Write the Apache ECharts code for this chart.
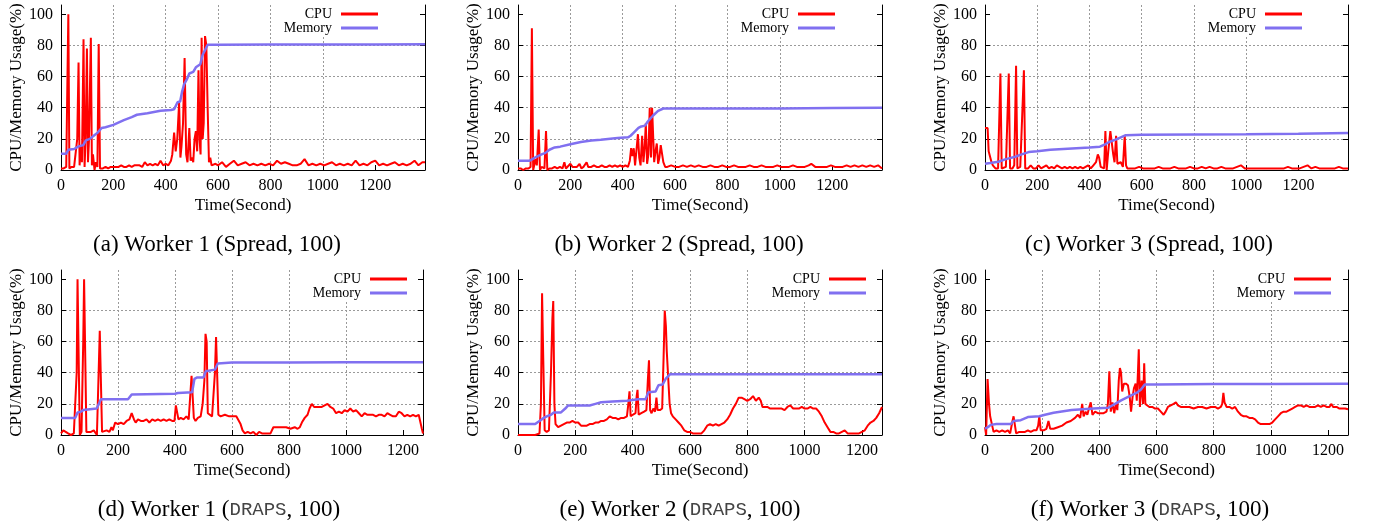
<!DOCTYPE html>
<html><head><meta charset="utf-8">
<script src="https://cdn.jsdelivr.net/npm/echarts@6/dist/echarts.min.js"></script>
<style>html,body{margin:0;padding:0;background:#fff}#c{width:1374px;height:527px}</style>
</head><body><div id="c"></div>
<script>
// ---------- data ----------
const xTickValues = [0, 200, 400, 600, 800, 1000, 1200];
const yTickValues = [0, 20, 40, 60, 80, 100];
const seriesNames = ['CPU', 'Memory'];
const panelLetters = ['a', 'b', 'c', 'd', 'e', 'f'];
const panelWorkers = ['Worker 1', 'Worker 2', 'Worker 3', 'Worker 1', 'Worker 2', 'Worker 3'];
const panelSchemes = ['Spread', 'Spread', 'Spread', 'DRAPS', 'DRAPS', 'DRAPS'];
const panelParam = [100, 100, 100, 100, 100, 100];
const xAxisName = 'Time(Second)';
const yAxisName = 'CPU/Memory Usage(%)';

const cpuA = [[0,1],[10,1],[20,2],[24,2],[28,100],[32,1],[40,2],[50,2],[56,3],[62,20],[67,69],[71,3],[75,15],[80,5],[86,84],[90,2],[94,20],[99,78],[103,5],[107,20],[114,85],[118,3],[122,10],[128,0],[133,5],[139,2],[144,81],[149,1],[155,2],[160,1],
[170,2],[180,1],[190,2],[200,2],[210,2],[220,2],[230,3],[240,2],[250,2],[260,3],[270,2],[280,3],[290,3],[300,3],[310,2],[320,5],[330,3],[340,4],[350,3],[360,4],[370,3],[380,6],[390,3],[400,4],[410,3],[420,6],
[425,10],[432,24],[438,12],[444,20],[451,43],[456,8],[460,15],[466,30],[472,72],[478,10],[483,5],[490,27],[495,6],[500,8],[505,5],[510,20],[515,25],[520,12],[525,64],[529,20],[533,10],[537,85],[541,20],[545,30],[550,86],[555,80],[560,40],[565,5],[570,8],[575,3],
[590,4],[600,3],[615,5],[630,2],[645,4],[660,6],[675,3],[690,4],[705,5],[720,3],[735,4],[750,3],[765,4],[780,3],[795,4],[810,3],[825,6],[840,4],[855,5],[870,4],[885,3],[900,3],[915,4],[930,7],[945,3],[960,4],[975,3],[990,4],[1005,3],[1020,4],[1035,5],[1050,3],[1065,4],[1080,3],[1095,4],[1110,3],[1125,6],[1140,3],[1155,4],[1170,3],[1185,5],[1200,6],[1215,3],[1230,4],[1245,3],[1260,4],[1275,5],[1290,3],[1305,4],[1320,3],[1335,4],[1350,6],[1365,3],[1380,5],[1390,5]];
const memA = [[0,10.5],[20,10.5],[28,13],[50,13.5],[65,15],[85,16],[95,19],[110,20],[125,22],[140,24],[155,27],[170,27.5],[200,29],[240,32],[270,34],[290,35.5],[330,36.5],[380,38],[420,38.5],[432,39],[445,43.5],[455,44],[462,50],[470,55],[480,58],[490,62],[505,63],[515,66],[522,67],[532,68],[541,74],[550,77],[560,80.5],[600,80.5],[800,80.6],[1000,80.6],[1200,80.7],[1390,80.8]];

const cpuB = [[0,1],[10,1],[20,0],[30,1],[40,1],[48,2],[53,91],[58,0],[62,3],[66,7],[72,3],[79,26],[84,0],[90,2],[96,3],[101,1],[107,25],[112,0],[120,1],[130,1],[140,2],[150,1],[160,2],[170,1],[177,5],[183,1],[190,2],[200,4],[208,2],[215,3],[225,2],[235,4],[242,1],[250,2],[262,5],[268,2],[280,2],[290,3],[300,2],[310,2],[320,3],[330,2],[340,2],[350,3],[360,2],[370,3],[380,2],[390,3],[400,2],[410,3],[420,2],
[427,6],[432,14],[437,9],[442,14],[447,3],[452,12],[458,23],[463,8],[468,3],[474,22],[479,5],[484,15],[488,30],[493,4],[498,10],[503,40],[508,8],[512,40],[516,41],[520,5],[525,12],[530,17],[535,4],[540,8],[545,16],[550,16],[555,5],[562,2],[570,2],
[585,3],[600,2],[615,2],[630,3],[645,2],[660,3],[675,2],[690,3],[705,2],[720,2],[735,3],[750,2],[765,2],[780,3],[795,2],[810,2],[825,3],[840,2],[855,2],[870,2],[885,3],[900,2],[915,2],[930,3],[945,2],[960,2],[975,2],[990,3],[1005,2],[1020,2],[1035,2],[1050,3],[1065,2],[1080,2],[1095,2],[1110,3],[1120,4],[1135,2],[1150,2],[1165,2],[1180,2],[1195,3],[1210,2],[1225,2],[1240,2],[1255,3],[1270,2],[1285,3],[1300,2],[1315,3],[1330,2],[1345,3],[1360,2],[1375,3],[1390,1]];
const memB = [[0,6],[45,6],[55,7],[70,8.5],[90,10],[105,11],[120,13],[140,14.5],[161,15],[200,16.5],[240,18],[280,19],[316,19.5],[380,20.5],[420,21],[430,22],[445,24.5],[460,27],[471,28],[485,28.5],[495,31],[505,33],[516,35],[535,38],[555,39.5],[600,39.5],[800,39.5],[1000,39.5],[1200,39.8],[1390,40]];

const cpuC = [[0,27],[5,26],[10,27],[14,12],[20,12],[25,5],[30,3],[40,1],[50,1],[55,2],[59,62],[64,1],[70,1],[80,2],[86,3],[91,62],[96,1],[105,1],[112,3],[119,67],[124,1],[135,2],[140,3],[149,64],[154,1],[165,1],[175,3],[185,1],[195,1],[205,3],[215,1],[225,2],[235,3],[245,1],[255,2],[265,1],[275,3],[285,2],[295,1],[305,2],[315,1],[325,2],[335,1],[345,2],[355,1],[365,2],[375,1],[385,2],[395,3],[405,1],[415,3],[425,5],
[432,10],[437,8],[443,2],[450,3],[456,1],[461,25],[466,0],[472,12],[480,25],[486,26],[491,10],[496,5],[502,22],[507,4],[512,3],[520,5],[528,2],[535,22],[540,3],[545,1],
[560,1],[575,1],[590,2],[605,1],[620,1],[635,1],[650,1],[665,2],[680,1],[695,1],[710,1],[725,2],[740,1],[755,1],[770,1],[785,2],[800,1],[815,1],[830,2],[845,1],[860,2],[875,1],[890,1],[905,2],[920,1],[935,1],[950,1],[965,2],[980,3],[995,1],[1010,1],[1025,1],[1040,1],[1055,1],[1070,1],[1085,1],[1100,1],[1115,1],[1130,1],[1145,1],[1160,2],[1175,1],[1190,1],[1205,1],[1220,2],[1235,3],[1250,1],[1265,2],[1280,1],[1295,1],[1310,1],[1325,1],[1340,1],[1355,2],[1370,1],[1390,1]];
const memC = [[0,4],[20,4.5],[51,5.3],[80,7],[116,8.5],[140,10],[167,11.5],[200,12],[250,13],[300,13.5],[350,14],[400,14.5],[440,15],[460,16.5],[475,18],[500,19.5],[520,21],[539,22.4],[600,22.6],[800,22.8],[1000,23],[1200,23.3],[1390,23.8]];

const cpuD = [[0,1],[8,3],[15,2],[25,1],[35,0],[45,1],[52,2],[55,40],[58,100],[62,100],[66,0],[72,2],[78,60],[81,100],[85,100],[89,2],[95,1],[105,2],[115,3],[122,4],[126,0],[132,40],[136,67],[140,67],[144,2],[150,3],[160,3],[170,2],[177,5],[182,3],[190,8],[200,7],[210,8],[220,7],[230,9],[240,10],[248,14],[256,10],[262,8],[270,10],[280,9],[290,9],[300,10],[310,8],[320,10],[330,9],[340,10],[350,9],[360,10],[370,9],[380,10],[390,9],[398,9],[403,19],[408,18],[412,10],[420,11],[430,10],[440,12],[448,10],[454,11],[458,38],[462,37],[466,11],[472,9],[480,11],[490,12],[497,20],[503,35],[507,65],[511,60],[515,14],[520,13],[530,12],[536,13],[540,40],[544,63],[548,62],[552,13],[560,12],[575,13],[590,12],[605,12],[615,12],[622,11],[630,7],[637,3],[645,1],[655,2],[665,1],[675,2],[685,0],[695,2],[705,1],[715,1],[725,1],[735,1],[745,5],[760,5],[775,5],[790,5],[805,4],[820,5],[830,4],[838,5],[845,8],[855,11],[865,13],[872,17],[880,20],[888,18],[895,17],[905,18],[915,18],[925,19],[935,20],[945,18],[955,17],[965,14],[975,15],[985,14],[995,16],[1005,15],[1015,17],[1025,15],[1035,16],[1045,14],[1055,12],[1065,14],[1075,13],[1085,13],[1095,13],[1105,12],[1115,13],[1125,13],[1135,12],[1145,14],[1155,13],[1165,12],[1175,12],[1185,15],[1195,14],[1205,12],[1215,13],[1225,12],[1235,13],[1245,12],[1255,13],[1262,14],[1266,4],[1270,1]];
const memD = [[0,11],[50,11],[58,14.5],[70,15],[78,16],[85,17],[125,17],[133,20],[140,23],[235,23],[248,26],[400,26.5],[410,27],[460,27.5],[468,36],[478,37],[500,37],[508,41],[515,42],[540,42],[550,46],[600,46.5],[800,46.5],[1000,46.7],[1270,46.8]];

const cpuE = [[0,0],[20,0],[40,0],[60,0],[75,1],[80,20],[84,91],[88,50],[93,3],[100,2],[108,3],[115,40],[120,75],[123,86],[127,20],[131,7],[140,5],[150,6],[160,7],[170,8],[180,8],[190,9],[200,8],[210,8],[220,6],[230,6],[240,6],[250,7],[260,7],[270,8],[280,8],[290,9],[300,9],[310,10],[320,12],[330,11],[340,11],[350,10],[360,11],[370,11],[380,12],[385,20],[389,28],[393,12],[400,13],[410,14],[414,25],[417,29],[421,13],[430,14],[440,15],[448,16],[453,35],[457,48],[461,16],[466,14],[472,17],[478,15],[483,24],[487,16],[495,16],[503,17],[508,50],[512,80],[516,70],[519,54],[525,53],[529,20],[534,14],[540,12],[550,10],[560,8],[570,6],[580,3],[590,2],[600,2],[610,1],[620,1],[630,1],[640,1],[650,3],[660,6],[670,7],[680,6],[690,7],[700,6],[710,7],[720,8],[730,10],[740,13],[750,17],[760,20],[770,24],[780,24],[790,23],[800,22],[810,23],[820,25],[830,22],[840,24],[847,22],[853,18],[860,18],[870,18],[880,17],[890,17],[900,17],[910,17],[920,17],[930,16],[940,18],[950,19],[960,17],[970,17],[980,17],[990,18],[1000,17],[1010,17],[1020,18],[1030,17],[1040,17],[1050,15],[1060,12],[1070,8],[1080,5],[1090,2],[1100,2],[1110,1],[1120,1],[1130,2],[1140,3],[1150,1],[1160,1],[1170,1],[1180,1],[1190,1],[1200,2],[1210,3],[1220,6],[1230,8],[1240,9],[1250,11],[1260,14],[1270,18]];
const memE = [[0,7],[60,7],[75,9],[90,11],[100,12],[115,13],[125,14.5],[150,14.5],[165,17],[175,19],[250,19],[270,20],[290,21],[330,21.5],[380,22],[420,23],[445,23],[455,27.5],[480,28],[490,32],[505,32.5],[515,36],[530,39],[600,39],[800,39],[1000,39],[1270,39]];

const cpuF = [[0,5],[4,0],[9,36],[14,20],[18,12],[24,7],[30,2],[40,3],[50,2],[60,3],[70,2],[80,3],[88,1],[95,8],[100,12],[105,13],[109,1],[120,2],[130,2],[140,2],[150,3],[160,2],[170,3],[180,3],[186,6],[190,12],[195,3],[205,3],[215,4],[222,9],[228,4],[240,4],[255,5],[270,6],[285,8],[300,9],[315,11],[325,13],[333,11],[340,20],[345,12],[352,15],[358,13],[365,18],[370,21],[376,13],[385,15],[395,14],[405,14],[415,14],[425,15],[430,20],[435,41],[440,15],[446,21],[452,14],[458,20],[463,16],[468,35],[472,43],[476,40],[480,28],[486,33],[493,33],[500,32],[506,25],[511,15],[516,24],[521,30],[527,33],[531,22],[535,40],[538,55],[542,18],[548,35],[553,20],[557,46],[561,20],[568,19],[575,18],[585,18],[595,17],[605,17],[615,15],[625,13],[632,15],[640,18],[650,19],[660,20],[668,21],[675,19],[685,18],[700,18],[715,18],[730,17],[745,18],[760,18],[775,17],[790,18],[805,18],[815,17],[825,18],[830,20],[834,27],[838,21],[845,18],[855,18],[865,17],[875,18],[885,15],[895,13],[905,12],[915,12],[925,11],[935,11],[945,10],[955,8],[965,7],[975,7],[985,7],[995,7],[1005,8],[1015,10],[1025,12],[1035,14],[1045,15],[1055,15],[1065,16],[1075,17],[1085,18],[1095,19],[1105,19],[1115,18],[1125,19],[1135,18],[1145,18],[1155,18],[1165,19],[1175,18],[1185,19],[1195,18],[1205,18],[1212,20],[1218,18],[1230,18],[1240,17],[1250,17],[1260,17],[1270,16.5]];
const memF = [[0,4],[10,5],[20,6.5],[40,7],[90,7],[100,9],[125,9.5],[150,11.5],[190,12],[210,13],[240,14.3],[303,16],[380,17],[431,17.5],[455,20],[478,22.4],[513,25.6],[530,27],[545,29],[559,32.5],[600,32.5],[800,32.8],[1000,32.8],[1270,33]];

const cpuSeries = [cpuA, cpuB, cpuC, cpuD, cpuE, cpuF];
const memSeries = [memA, memB, memC, memD, memE, memF];

// ---------- layout ----------
const layout = [
  {left: 61,  top: 5,   width: 364, xMax: 1390, legRight: 993, legTop: 5,   tx: 217,  ty: 245},
  {left: 518, top: 5,   width: 364, xMax: 1390, legRight: 536, legTop: 5,   tx: 679,  ty: 245},
  {left: 985, top: 5,   width: 363, xMax: 1390, legRight: 69,  legTop: 5,   tx: 1149, ty: 245},
  {left: 61,  top: 270, width: 362, xMax: 1270, legRight: 964, legTop: 270, tx: 219,  ty: 510},
  {left: 518, top: 270, width: 364, xMax: 1270, legRight: 505, legTop: 270, tx: 680,  ty: 510},
  {left: 985, top: 270, width: 363, xMax: 1270, legRight: 40,  legTop: 270, tx: 1150, ty: 510}
];
const PH = 165;
const SERIF = '"Liberation Serif", "Times New Roman", serif';
const MONO = '"Liberation Mono", "Courier New", monospace';
const RED = '#ff0000';
const BLUE = '#8070f0';
const gridLine = {show: true, showMinLine: false, showMaxLine: false, lineStyle: {color: '#9a9a9a', type: [2, 2], width: 1}};
const plain = v => String(v);

const grids = [], xAxes = [], yAxes = [], series = [], legends = [], graphics = [];
layout.forEach((p, i) => {
  grids.push({left: p.left, top: p.top, width: p.width, height: PH, containLabel: false});
  xAxes.push({
    type: 'value', gridIndex: i, min: 0, max: p.xMax, interval: 200,
    name: xAxisName, nameLocation: 'middle', nameGap: 27,
    nameTextStyle: {fontFamily: SERIF, fontSize: 17, color: '#000'},
    axisLine: {show: true, onZero: false, lineStyle: {color: '#000', width: 1}},
    axisTick: {show: true, inside: true, length: 5, lineStyle: {color: '#000'}, customValues: xTickValues},
    axisLabel: {fontFamily: SERIF, fontSize: 16, color: '#000', margin: 8, customValues: xTickValues, formatter: plain},
    splitLine: gridLine
  });
  yAxes.push({
    type: 'value', gridIndex: i, min: 0, max: 106, interval: 20, position: 'left',
    name: yAxisName, nameLocation: 'middle', nameGap: 36,
    nameTextStyle: {fontFamily: SERIF, fontSize: 17, color: '#000'},
    axisLine: {show: true, onZero: false, lineStyle: {color: '#000', width: 1}},
    axisTick: {show: true, inside: true, length: 5, lineStyle: {color: '#000'}, customValues: yTickValues},
    axisLabel: {fontFamily: SERIF, fontSize: 16, color: '#000', margin: 8, customValues: yTickValues, formatter: plain},
    splitLine: gridLine
  });
  yAxes.push({
    type: 'value', gridIndex: i, min: 0, max: 106, interval: 20, position: 'right',
    axisLine: {show: true, onZero: false, lineStyle: {color: '#000', width: 1}},
    axisTick: {show: true, inside: true, length: 5, lineStyle: {color: '#000'}, customValues: yTickValues},
    axisLabel: {show: false},
    splitLine: {show: false}
  });
  series.push({
    name: seriesNames[0], type: 'line', xAxisIndex: i, yAxisIndex: 2 * i,
    data: cpuSeries[i], showSymbol: false, symbol: 'none',
    lineStyle: {color: RED, width: 2}, itemStyle: {color: RED}, z: 2
  });
  series.push({
    name: seriesNames[1], type: 'line', xAxisIndex: i, yAxisIndex: 2 * i,
    data: memSeries[i], showSymbol: false, symbol: 'none',
    lineStyle: {color: BLUE, width: 2.5}, itemStyle: {color: BLUE}, z: 3
  });
  legends.push({
    orient: 'vertical', align: 'right', right: p.legRight, top: p.legTop,
    padding: [2, 3, 2, 3], itemGap: 0, itemWidth: 37, itemHeight: 3,
    backgroundColor: '#fff', selectedMode: false,
    textStyle: {fontFamily: SERIF, fontSize: 14, color: '#000', lineHeight: 13, padding: [0, 4, 0, 0]},
    data: seriesNames.map(n => ({name: n, icon: 'rect'}))
  });
  const isMono = panelSchemes[i] === 'DRAPS';
  graphics.push({
    type: 'text', x: p.tx, y: p.ty,
    style: {
      text: '{n|(' + panelLetters[i] + ') ' + panelWorkers[i] + ' (}{' + (isMono ? 'm' : 'n') + '|' + panelSchemes[i] + '}{n|, ' + panelParam[i] + ')}',
      align: 'center', verticalAlign: 'middle',
      rich: {
        n: {fontFamily: SERIF, fontSize: 23, fill: '#000'},
        m: {fontFamily: MONO, fontSize: 19, fill: '#444'}
      }
    }
  });
});

const chart = echarts.init(document.getElementById('c'), null, {renderer: 'canvas'});
chart.setOption({
  animation: false,
  backgroundColor: '#fff',
  grid: grids, xAxis: xAxes, yAxis: yAxes, series: series, legend: legends,
  graphic: graphics
});
</script></body></html>
